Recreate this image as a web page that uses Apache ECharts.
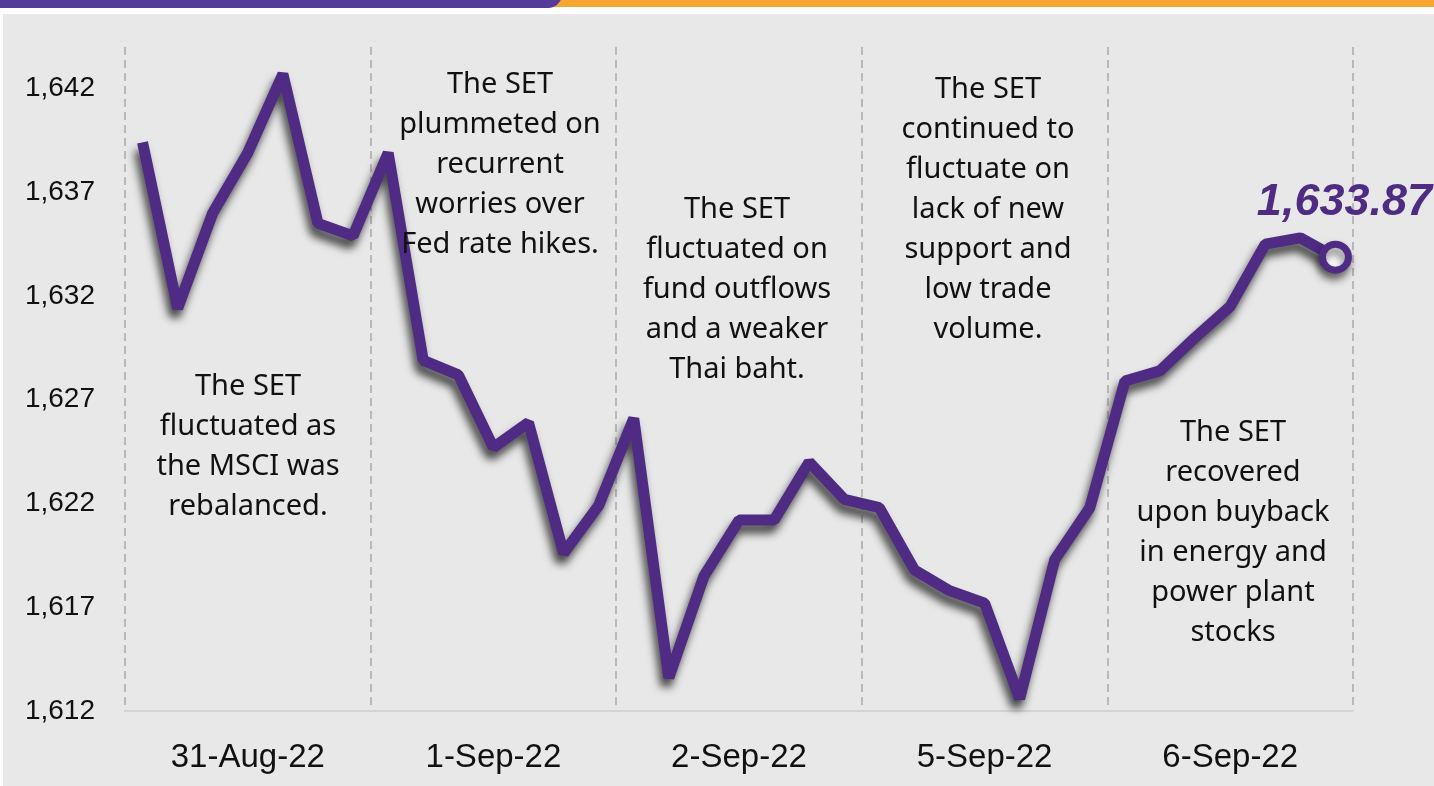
<!DOCTYPE html>
<html><head><meta charset="utf-8">
<script src="https://cdn.jsdelivr.net/npm/echarts@6/dist/echarts.min.js"></script>
<style>html,body{margin:0;padding:0;background:#fff}#c{width:1434px;height:786px}</style>
</head><body><div id="c"></div>
<script>
// ---- data ----
const days = ['31-Aug-22', '1-Sep-22', '2-Sep-22', '5-Sep-22', '6-Sep-22'];
const sessionsPerDay = 7;
const setIndex = [
  1639.4, 1631.4, 1636.0, 1638.9, 1642.7, 1635.5, 1634.9,
  1638.9, 1628.9, 1628.2, 1624.7, 1625.9, 1619.6, 1621.9,
  1626.1, 1613.6, 1618.5, 1621.2, 1621.2, 1624.0, 1622.2,
  1621.8, 1618.8, 1617.8, 1617.2, 1612.6, 1619.3, 1621.8,
  1627.9, 1628.4, 1630.0, 1631.5, 1634.5, 1634.8, 1633.87
];
const yTicks = [1612, 1617, 1622, 1627, 1632, 1637, 1642];
const yMin = 1612, yMax = 1644, yStep = 5;
const notes = [
  'The SET\nfluctuated as\nthe MSCI was\nrebalanced.',
  'The SET\nplummeted on\nrecurrent\nworries over\nFed rate hikes.',
  'The SET\nfluctuated on\nfund outflows\nand a weaker\nThai baht.',
  'The SET\ncontinued to\nfluctuate on\nlack of new\nsupport and\nlow trade\nvolume.',
  'The SET\nrecovered\nupon buyback\nin energy and\npower plant\nstocks'
];

// ---- layout (not data) ----
const noteLayout = [[248, 367], [500, 65], [737, 190], [988, 70], [1233, 413]];
const PURPLE = '#4f2b84';
const AXIS_FONT = '"Liberation Sans Narrow", "Arial Narrow", "Liberation Sans", Arial, sans-serif';

const sessions = [];
days.forEach(d => { for (let i = 1; i <= sessionsPerDay; i++) sessions.push(d + ' S' + i); });

const seriesData = setIndex.map((v, i) => {
  if (i !== setIndex.length - 1) return v;
  return {
    value: v,
    symbol: 'circle', symbolSize: 26,
    itemStyle: { color: '#fff', borderColor: PURPLE, borderWidth: 7,
      shadowColor: 'rgba(0,0,0,0.5)', shadowBlur: 8, shadowOffsetX: -2, shadowOffsetY: 6 },
    label: {
      show: true, position: 'top', offset: [9, -11],
      formatter: p => p.value.toLocaleString('en-US', {minimumFractionDigits: 2, maximumFractionDigits: 2}),
      fontFamily: '"Liberation Sans", Arial, sans-serif', fontSize: 45,
      fontWeight: 'bold', fontStyle: 'italic', color: PURPLE
    }
  };
});

const chart = echarts.init(document.getElementById('c'), null, {renderer: 'canvas'});
chart.setOption({
  backgroundColor: '#e8e8e8',
  animation: false,
  grid: { left: 125, right: 81, top: 47, bottom: 75, containLabel: false },
  xAxis: [{
    type: 'category', data: days, boundaryGap: true,
    axisLine: { show: true, lineStyle: { color: '#d4d4d4', width: 2 } },
    axisTick: { show: false },
    axisLabel: { color: '#111', fontFamily: AXIS_FONT, fontSize: 33, margin: 30 },
    splitLine: { show: true, lineStyle: { color: '#a9a9a9', type: [8, 5], width: 1.5 } }
  }, {
    type: 'category', data: sessions, boundaryGap: true, show: false
  }],
  yAxis: {
    type: 'value', min: yMin, max: yMax, interval: yStep,
    axisLine: { show: false }, axisTick: { show: false }, splitLine: { show: false },
    axisLabel: {
      color: '#111', fontFamily: AXIS_FONT, fontSize: 28, margin: 30,
      formatter: v => yTicks.indexOf(v) >= 0 ? v.toLocaleString('en-US') : ''
    }
  },
  series: [{
    type: 'line', xAxisIndex: 1, data: seriesData,
    showSymbol: true, symbol: 'none', z: 5,
    lineStyle: { color: PURPLE, width: 11, shadowColor: 'rgba(0,0,0,0.7)', shadowBlur: 9, shadowOffsetX: -3, shadowOffsetY: 8 }
  }],
  graphic: [
    { type: 'rect', shape: { x: 0, y: 0, width: 1434, height: 14 }, style: { fill: '#fff' }, z: 10 },
    { type: 'rect', shape: { x: 0, y: 0, width: 3, height: 786 }, style: { fill: '#fff' }, z: 10 },
    { type: 'rect', shape: { x: 540, y: 0, width: 894, height: 7 }, style: { fill: '#f7a531' }, z: 11 },
    { type: 'rect', shape: { x: -20, y: -20, width: 582, height: 28, r: [0, 0, 14, 0] }, style: { fill: '#563a9a' }, z: 12 }
  ].concat(notes.map((t, i) => ({
    type: 'text', z: 20,
    x: noteLayout[i][0], y: noteLayout[i][1],
    style: {
      text: t, fill: '#111', align: 'center', verticalAlign: 'top',
      fontFamily: '"Noto Sans", sans-serif', fontSize: 29, lineHeight: 40
    }
  })))
});
</script></body></html>
